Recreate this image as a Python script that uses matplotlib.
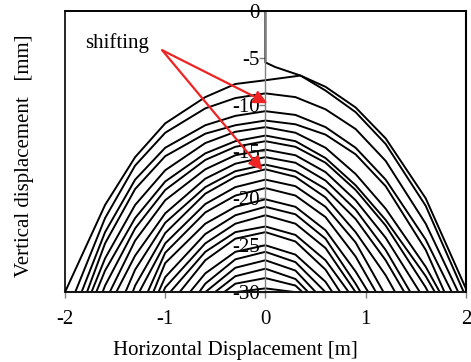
import numpy as np
import matplotlib.pyplot as plt
from matplotlib.patches import Rectangle

plt.rcParams['font.family'] = ['Liberation Serif', 'DejaVu Serif']

# survey positions across the section [m]
x_grid = [-2.0, -1.6, -1.3, -1.0, -0.6, -0.3, 0.0, 0.3, 0.6, 0.9, 1.2, 1.6, 2.0]

# first reading only exists on the right half
x_first = [0.0, 0.0, 0.1, 0.35, 0.6, 0.9, 1.2, 1.6, 2.0]
y_first = [0.0, -5.5, -6.0, -6.9, -8.1, -10.3, -13.6, -20.0, -29.6]

x_second = [-2.0, -1.6, -1.3, -1.0, -0.6, -0.3, 0.0, 0.35, 0.6, 0.9, 1.2, 1.6, 2.0]
y_second = [-30.0, -20.7, -15.6, -12.0, -9.2, -7.8, -7.4, -6.9, -8.5, -10.8, -14.2, -20.8, -30.5]

# vertical displacement [mm] of the later readings on x_grid
y_readings = [
    [-32.7, -22.1, -16.5, -13.0, -10.4, -9.3, -8.8, -9.2, -10.5, -12.6, -16.0, -22.7, -31.7],
    [-34.5, -23.6, -18.0, -14.6, -12.2, -11.2, -10.7, -11.1, -12.4, -14.6, -18.0, -24.4, -33.0],
    [-36.3, -24.8, -19.0, -15.5, -13.1, -12.2, -11.7, -12.1, -13.2, -15.3, -18.7, -25.5, -35.1],
    [-37.0, -26.4, -20.7, -17.0, -14.1, -12.9, -12.4, -13.0, -14.6, -17.4, -21.1, -27.3, -35.0],
    [-38.1, -27.7, -22.1, -18.2, -15.2, -13.9, -13.3, -13.9, -15.7, -18.6, -22.3, -28.3, -35.7],
    [-40.5, -29.3, -23.2, -19.1, -15.9, -14.5, -13.9, -14.5, -16.2, -19.1, -22.9, -29.5, -37.6],
    [-43.0, -31.0, -24.5, -20.2, -16.9, -15.4, -14.8, -15.4, -17.2, -20.2, -24.2, -31.0, -39.3],
    [-43.2, -32.3, -26.1, -21.6, -17.9, -16.3, -15.6, -16.2, -18.1, -21.2, -25.5, -32.8, -42.2],
    [-48.8, -35.0, -27.6, -22.6, -18.8, -17.1, -16.4, -17.1, -19.0, -22.2, -26.6, -33.9, -43.0],
    [-53.9, -37.8, -29.3, -23.7, -19.5, -17.7, -16.9, -17.7, -19.9, -23.6, -28.2, -35.8, -46.0],
    [-55.0, -38.5, -30.8, -24.8, -20.6, -18.8, -18.0, -18.7, -20.9, -24.7, -30.4, -40.0, -52.0],
    [-56.0, -40.0, -33.0, -25.8, -21.5, -19.7, -18.9, -19.7, -22.0, -26.2, -31.8, -41.0, -53.0],
    [-57.0, -42.0, -34.7, -26.9, -22.7, -20.9, -20.1, -20.9, -23.4, -27.8, -33.0, -43.0, -55.0],
    [-58.0, -43.0, -35.5, -28.4, -23.8, -21.8, -20.9, -21.7, -24.3, -29.1, -34.5, -44.0, -56.0],
    [-59.0, -45.0, -37.0, -29.5, -24.8, -22.7, -21.8, -22.7, -25.3, -30.0, -36.0, -46.0, -58.0],
    [-60.0, -46.0, -38.5, -30.6, -25.7, -23.6, -23.0, -23.9, -26.6, -31.0, -37.0, -47.0, -59.0],
    [-61.0, -47.0, -39.0, -31.9, -26.6, -24.3, -23.6, -24.6, -27.6, -32.5, -39.0, -49.0, -61.0],
    [-62.0, -48.0, -40.0, -33.2, -28.0, -25.7, -25.0, -26.0, -28.9, -33.7, -40.0, -50.0, -62.0],
    [-63.0, -50.0, -42.0, -35.0, -29.1, -26.5, -25.7, -26.8, -30.0, -35.0, -42.0, -52.0, -64.0],
    [-64.0, -51.0, -43.0, -36.0, -30.0, -27.4, -26.6, -27.7, -31.1, -36.0, -43.0, -53.0, -65.0],
    [-65.0, -52.0, -44.0, -37.0, -30.8, -28.3, -27.5, -28.6, -31.9, -37.0, -44.0, -54.0, -66.0],
    [-66.0, -53.0, -45.0, -38.0, -31.5, -29.1, -28.5, -29.3, -32.3, -38.0, -45.0, -55.0, -67.0],
    [-67.0, -54.0, -46.0, -39.0, -32.0, -30.0, -29.6, -30.0, -32.5, -39.0, -46.0, -56.0, -68.0],
]

x_ticks = [-2, -1, 0, 1, 2]
y_ticks = [0, -5, -10, -15, -20, -25, -30]

# shifted readings pointed out by the arrows
note_xy = (-1.03, -4.2)
shift_tips = [(0.02, -9.85), (-0.03, -17.0)]

fig = plt.figure(figsize=(4.71, 3.62), dpi=100)
ax = fig.add_axes([0.138, 0.193, 0.851, 0.777])

ax.plot(x_first, y_first, color='black', lw=1.4)
ax.plot(x_second, y_second, color='black', lw=1.4)
for ys in y_readings:
    ax.plot(x_grid, ys, color='black', lw=1.4)

ax.set_xlim(-2, 2)
ax.set_ylim(-30, 0)
ax.set_axisbelow(True)

# excel-style axes: y axis through x=0, frame around the plot area
ax.spines['left'].set_position(('data', 0))
ax.spines['left'].set_color('#808080')
ax.spines['bottom'].set_color('#808080')
ax.spines['left'].set_linewidth(1.0)
ax.spines['bottom'].set_linewidth(1.5)
ax.spines['top'].set_color('black')
ax.spines['right'].set_color('black')
ax.spines['top'].set_linewidth(1.2)
ax.spines['right'].set_linewidth(1.5)
ax.add_patch(Rectangle((0, 0), 1, 1, transform=ax.transAxes, fill=False,
                       ec='black', lw=1.2, zorder=3, clip_on=False))

ax.set_xticks(x_ticks)
ax.set_yticks(y_ticks)
ax.set_xticklabels([str(v) for v in x_ticks])
ax.set_yticklabels([str(v) for v in y_ticks])
ax.tick_params(axis='both', colors='#808080', labelcolor='black',
               labelsize=15, length=4, width=1.0, direction='out')
ax.tick_params(axis='x', pad=9)
ax.tick_params(axis='y', pad=0)

fig.text(0.5, 0.033, 'Horizontal Displacement [m]', fontsize=15, ha='center', va='center')
fig.text(0.053, 0.569, 'Vertical displacement   [mm]', fontsize=15,
         rotation=90, ha='center', va='center')

ax.text(-1.8, -3.4, 'shifting', fontsize=15, ha='left', va='center')
for tip in shift_tips:
    ax.annotate('', xy=tip, xytext=note_xy,
                arrowprops=dict(arrowstyle='-|>', color='#ee2424', lw=1.6,
                                mutation_scale=20, shrinkA=0, shrinkB=0),
                zorder=5)

fig.savefig('out.png', dpi=100)
